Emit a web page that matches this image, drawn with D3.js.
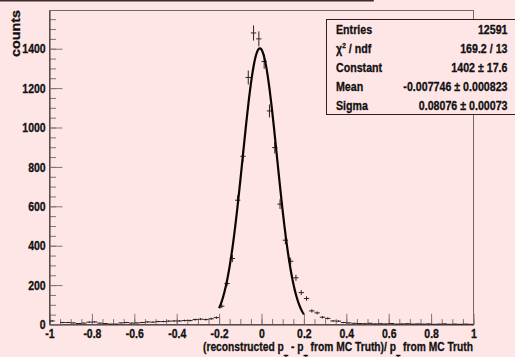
<!DOCTYPE html>
<html>
<head>
<meta charset="utf-8">
<script src="https://cdn.jsdelivr.net/npm/d3@7"></script>
<style>
  body { margin: 0; background: #ffe6e6; }
  svg { display: block; }
  text { font-family: "Liberation Sans", Arial, sans-serif; font-weight: bold; fill: #111;
         stroke: #111; stroke-width: 0.3px; }
</style>
</head>
<body>
<svg id="chart" width="515" height="357"></svg>
<script>
// ── Data ──────────────────────────────────────
const binLow = -1, binWidth = 0.025;   // 80 bins on [-1, 1]
const binCounts = [
  18, 0, 10, 10, 8, 5, 7, 12, 13, 7, 5, 2, 2, 8, 10, 7,
  8, 10, 13, 12, 15, 15, 17, 18, 18, 20, 20, 25, 27, 25, 29, 35,
  93, 208, 335, 631, 854, 1254, 1480, 1450, 1335, 1084, 898, 611, 428, 321, 237, 162,
  132, 69, 59, 37, 31, 18, 17, 10,
  8, 6, 5, 4, 6, 3, 4, 3, 5, 2, 3, 4, 2, 3, 2, 3, 1, 2, 3, 1, 2, 1, 2, 1
];

// gaus fit shown in the stats box
const fitRange = [-0.2, 0.2];
const fitConstant = 1402, fitMean = -0.007746, fitSigma = 0.08076;

const xTickValues = [-1, -0.8, -0.6, -0.4, -0.2, 0, 0.2, 0.4, 0.6, 0.8, 1];
const xTickLabels = ['-1', '-0.8', '-0.6', '-0.4', '-0.2', '0', '0.2', '0.4', '0.6', '0.8', '1'];
const yTickValues = [0, 200, 400, 600, 800, 1000, 1200, 1400];
const yTickLabels = ['0', '200', '400', '600', '800', '1000', '1200', '1400'];

const statLabels = ['Entries', 'chi2', 'Constant', 'Mean', 'Sigma'];
const statValues = ['12591', '169.2 / 13', '1402 \u00b1 17.6', '-0.007746 \u00b1 0.000823', '0.08076 \u00b1 0.00073'];

// ── Layout ─────────────────────────────────────
const bg = '#ffe6e6';
const SX = 0.82;               // narrow helvetica look
const L = 49.5, R = 473.5, T = 10.5, B = 324.5;

const svg = d3.select('#chart');
svg.append('rect').attr('width', 515).attr('height', 357).attr('fill', bg);

// bottom edge of the (cut off) title box
svg.append('path').attr('d', 'M0,0.8H373V-2').attr('fill', 'none')
  .attr('stroke', '#3d2a2a').attr('stroke-width', 1.6);

const yMax = 1594;
const x = d3.scaleLinear([-1, 1], [L, R]);
const y = d3.scaleLinear([0, yMax], [B, T]);

// frame
svg.append('rect').attr('x', L).attr('y', T).attr('width', R - L).attr('height', B - T)
  .attr('fill', 'none').attr('stroke', '#7a6464').attr('stroke-width', 1);

function narrow(g) {
  g.selectAll('text').each(function () {
    const t = d3.select(this);
    const xx = +t.attr('x') || 0;
    t.attr('x', xx / SX).attr('transform', `scale(${SX},1)`);
  });
}

// ── Axes ──
const tickCol = '#857272';
const xMinor = svg.append('g').attr('transform', `translate(0,${B})`)
  .call(d3.axisBottom(x).tickValues(d3.range(-20, 21).map(k => k * 0.05))
    .tickSizeInner(-5.4).tickSizeOuter(0).tickFormat(''));
xMinor.select('.domain').remove();
xMinor.selectAll('line').attr('stroke', tickCol);

const xAxis = svg.append('g').attr('transform', `translate(0,${B})`)
  .call(d3.axisBottom(x).tickValues(xTickValues).tickSizeInner(-10.7).tickSizeOuter(0)
    .tickPadding(4.3).tickFormat((d, i) => xTickLabels[i]));
xAxis.select('.domain').attr('stroke', '#3a3030');
xAxis.selectAll('line').attr('stroke', tickCol);
xAxis.selectAll('text').attr('font-size', 12.8).attr('fill', '#111')
  .attr('font-family', null);
narrow(xAxis);

const yMinor = svg.append('g').attr('transform', `translate(${L},0)`)
  .call(d3.axisLeft(y).tickValues(d3.range(0, 1551, 50))
    .tickSizeInner(-6.5).tickSizeOuter(0).tickFormat(''));
yMinor.select('.domain').remove();
yMinor.selectAll('line').attr('stroke', tickCol);

const yAxis = svg.append('g').attr('transform', `translate(${L},0)`)
  .call(d3.axisLeft(y).tickValues(yTickValues).tickSizeInner(-13).tickSizeOuter(0)
    .tickPadding(3.8).tickFormat((d, i) => yTickLabels[i]));
yAxis.select('.domain').attr('stroke', '#3a3030');
yAxis.selectAll('line').attr('stroke', tickCol);
yAxis.selectAll('text').attr('font-size', 12.8).attr('fill', '#111')
  .attr('font-family', null);
narrow(yAxis);

// ── Histogram points with error bars ──
const bins = binCounts.map((n, i) => ({ c: binLow + binWidth * (i + 0.5), n }))
  .filter(d => d.n > 0);
const pts = svg.append('g').attr('stroke', '#2a2222').attr('stroke-width', 1);
pts.selectAll('line.h').data(bins).join('line').attr('class', 'h')
  .attr('x1', d => x(d.c - binWidth / 2)).attr('x2', d => x(d.c + binWidth / 2))
  .attr('y1', d => y(d.n)).attr('y2', d => y(d.n));
pts.selectAll('line.v').data(bins).join('line').attr('class', 'v')
  .attr('x1', d => x(d.c)).attr('x2', d => x(d.c))
  .attr('y1', d => y(d.n - Math.sqrt(d.n))).attr('y2', d => y(d.n + Math.sqrt(d.n)));

// ── Gaussian fit ──
const gaus = v => fitConstant * Math.exp(-0.5 * Math.pow((v - fitMean) / fitSigma, 2));
const fx = d3.range(fitRange[0], fitRange[1] + 1e-9, 0.002);
svg.append('path').datum(fx)
  .attr('d', d3.line().x(d => x(d)).y(d => y(gaus(d))))
  .attr('fill', 'none').attr('stroke', '#0a0505').attr('stroke-width', 2.2);

// ── Axis titles ──
const xt = svg.append('text').attr('x', 203).attr('y', 351)
  .attr('font-size', 13).attr('textLength', 270).attr('lengthAdjust', 'spacingAndGlyphs');
const xParts = [['(reconstructed p', 0], ['T', 1], [' - p', 0], ['T', 1],
  [' from MC Truth)/ p', 0], ['T', 1], [' from MC Truth', 0]];
xParts.forEach(([s, sub], i) => {
  xt.append('tspan').attr('dy', sub ? 9.5 : (i === 0 ? 0 : -9.5))
    .attr('font-size', sub ? 9 : 13).text(s);
});

svg.append('text').attr('transform', 'translate(20,10) rotate(-90)')
  .attr('text-anchor', 'end').attr('font-size', 13.5)
  .attr('textLength', 47).attr('lengthAdjust', 'spacingAndGlyphs').text('counts');

// ── Stats box ──
svg.append('rect').attr('x', 326.5).attr('y', 19.5).attr('width', 200).attr('height', 95)
  .attr('fill', bg).attr('stroke', '#2e2020').attr('stroke-width', 1);
const rowY = [34.3, 53.3, 72, 91, 110];
statLabels.forEach((lab, i) => {
  const t = svg.append('text').attr('transform', `translate(336,${rowY[i]}) scale(${SX},1)`)
    .attr('font-size', 13);
  if (lab === 'chi2') {
    t.append('tspan').text('\u03c7');
    t.append('tspan').attr('font-size', 8).attr('dy', -5).text('2');
    t.append('tspan').attr('dy', 5).text(' / ndf');
  } else t.text(lab);
  svg.append('text').attr('transform', `translate(507.5,${rowY[i]}) scale(${SX},1)`)
    .attr('text-anchor', 'end').attr('font-size', 13).text(statValues[i]);
});
</script>
</body>
</html>
